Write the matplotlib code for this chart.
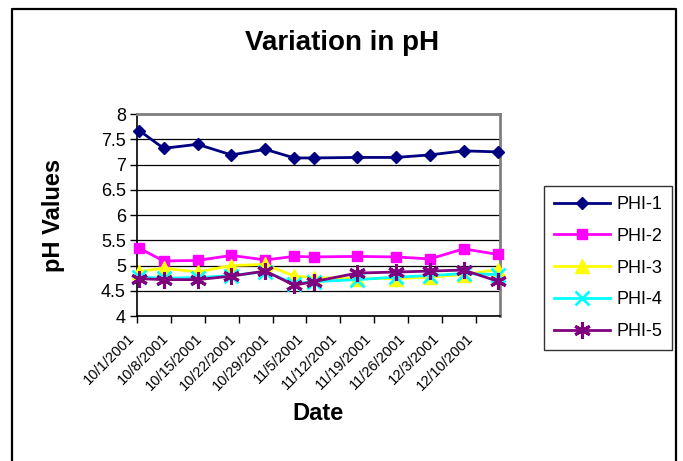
import matplotlib
matplotlib.use("Agg")
import matplotlib.pyplot as plt
import matplotlib.dates as mdates
import matplotlib.transforms as mtransforms
import pandas as pd
from matplotlib.lines import Line2D

plt.rcParams['font.family'] = ['Liberation Sans', 'DejaVu Sans']

# ---- data ----
dates = ["2001-10-01", "2001-10-06", "2001-10-13", "2001-10-20", "2001-10-27",
         "2001-11-02", "2001-11-06", "2001-11-15", "2001-11-23", "2001-11-30",
         "2001-12-07", "2001-12-14"]
phi1 = [7.67, 7.32, 7.40, 7.19, 7.30, 7.13, 7.13, 7.14, 7.14, 7.19, 7.27, 7.25]
phi2 = [5.34, 5.09, 5.10, 5.20, 5.11, 5.18, 5.17, 5.18, 5.17, 5.13, 5.33, 5.22]
phi3 = [4.88, 4.95, 4.87, 5.00, 5.02, 4.79, 4.76, 4.74, 4.74, 4.77, 4.82, 4.92]
phi4 = [4.77, 4.75, 4.76, 4.80, 4.88, 4.64, 4.68, 4.72, 4.77, 4.80, 4.84, 4.82]
phi5 = [4.74, 4.72, 4.72, 4.79, 4.89, 4.61, 4.68, 4.85, 4.87, 4.89, 4.91, 4.69]
tick_dates = ["2001-10-01", "2001-10-08", "2001-10-15", "2001-10-22", "2001-10-29",
              "2001-11-05", "2001-11-12", "2001-11-19", "2001-11-26", "2001-12-03",
              "2001-12-10"]
tick_labels = ["10/1/2001", "10/8/2001", "10/15/2001", "10/22/2001", "10/29/2001",
               "11/5/2001", "11/12/2001", "11/19/2001", "11/26/2001", "12/3/2001",
               "12/10/2001"]
axis_start, axis_end = "2001-10-01", "2001-12-15"
series_names = ["PHI-1", "PHI-2", "PHI-3", "PHI-4", "PHI-5"]

# ---- plot ----
W, H = 683, 461
fig = plt.figure(figsize=(W / 100, H / 100), dpi=100)
ax = fig.add_axes([137 / W, 1 - 316 / H, (500 - 137) / W, (316 - 114) / H])

x = mdates.date2num(pd.to_datetime(dates)) + 0.5
styles = [
    dict(color="#000080", marker="D", ms=6.5),
    dict(color="#FF00FF", marker="s", ms=6.5),
    dict(color="#FFFF00", marker="^", ms=10),
    dict(color="#00FFFF", marker="x", ms=10, mew=2),
    dict(color="#800080", marker=(6, 2, 0), ms=12, mew=2.2),
]
for name, vals, st in zip(series_names, [phi1, phi2, phi3, phi4, phi5], styles):
    ax.plot(x, vals, lw=2, label=name, zorder=3, clip_on=False, **st)

ax.set_xlim(mdates.date2num(pd.Timestamp(axis_start)), mdates.date2num(pd.Timestamp(axis_end)))
ax.set_ylim(4, 8)
ax.set_yticks([4 + 0.5 * i for i in range(9)])
ax.set_yticklabels(["4", "4.5", "5", "5.5", "6", "6.5", "7", "7.5", "8"], fontsize=13)
ax.yaxis.grid(True, color="black", lw=0.9)
ax.set_axisbelow(True)

ax.set_xticks(mdates.date2num(pd.to_datetime(tick_dates)))
ax.set_xticklabels(tick_labels, rotation=45, ha="right", fontsize=10.5)
shift = mtransforms.ScaledTranslation(-4 / 100, -2 / 100, fig.dpi_scale_trans)
for lbl in ax.get_xticklabels():
    lbl.set_transform(lbl.get_transform() + shift)
ax.tick_params(axis="both", direction="out", length=5, width=1, color="black")
ax.tick_params(axis="x", pad=6)
ax.tick_params(axis="y", pad=3)

for s in ["top", "right"]:
    ax.spines[s].set_color("#808080")
    ax.spines[s].set_linewidth(2)
for s in ["left", "bottom"]:
    ax.spines[s].set_color("black")
    ax.spines[s].set_linewidth(1.2)

ax.set_ylabel("pH Values", fontsize=17, fontweight="bold", labelpad=26)
ax.set_xlabel("Date", fontsize=17, fontweight="bold", labelpad=6)
fig.text(342 / W, 1 - 43 / H, "Variation in pH", fontsize=20, fontweight="bold",
         ha="center", va="center")

leg = fig.legend(loc="upper left", bbox_to_anchor=(544 / W, 1 - 186 / H),
                 fontsize=13, frameon=True, fancybox=False, edgecolor="black",
                 handlelength=3.1, labelspacing=0.82, borderpad=0.55,
                 handletextpad=0.35, borderaxespad=0)
leg.get_frame().set_linewidth(1)

# outer chart border (left, top, right)
fig.add_artist(Line2D([12 / W, 12 / W, 676 / W, 676 / W],
                      [0, 1 - 9 / H, 1 - 9 / H, 0], color="black", lw=1.6,
                      transform=fig.transFigure))

fig.savefig("out.png", dpi=100)
